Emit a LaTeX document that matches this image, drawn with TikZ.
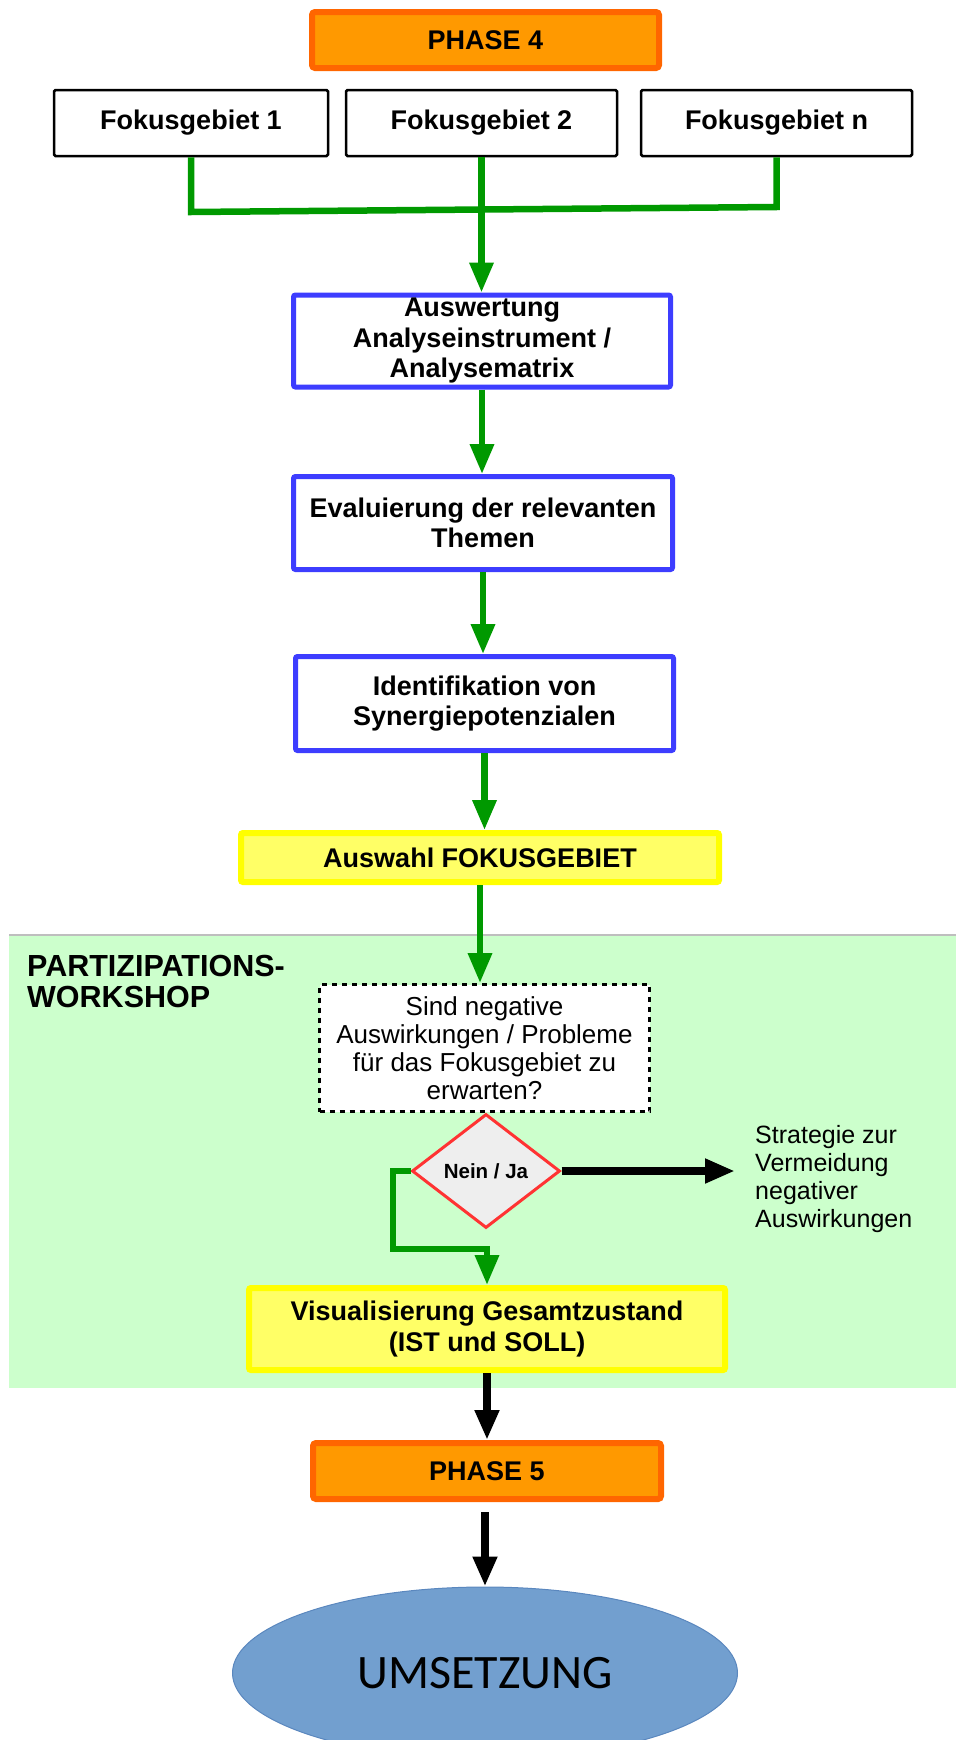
\documentclass[tikz,border=0pt]{standalone}
\usepackage{fontspec}
\setmainfont{Liberation Sans}
\newfontfamily\calibfont{Carlito}
\usetikzlibrary{arrows.meta,shapes.geometric}
\definecolor{orangeB}{RGB}{255,102,0}
\definecolor{orangeF}{RGB}{255,153,0}
\definecolor{blueB}{RGB}{61,61,255}
\definecolor{yellowB}{RGB}{255,255,0}
\definecolor{yellowF}{RGB}{255,255,102}
\definecolor{arrowgreen}{RGB}{0,153,0}
\definecolor{regionfill}{RGB}{204,255,204}
\definecolor{regionline}{RGB}{190,190,190}
\definecolor{diaB}{RGB}{255,51,51}
\definecolor{diaF}{RGB}{238,238,238}
\definecolor{ellF}{RGB}{114,159,207}
\definecolor{ellB}{RGB}{90,135,190}
\begin{document}
\begin{tikzpicture}[x=1pt,y=-1pt,
  phase/.style={draw=orangeB, fill=orangeF, line width=6pt, rounded corners=3pt,
    inner sep=0pt, font=\bfseries\fontsize{27}{30}\selectfont},
  fokus/.style={draw=black, fill=white, line width=2.5pt, rounded corners=1.5pt,
    inner sep=0pt, font=\bfseries\fontsize{27}{30}\selectfont},
  bluebox/.style={draw=blueB, fill=white, line width=5pt, rounded corners=2pt,
    inner sep=0pt, align=center, font=\bfseries\fontsize{27}{30.5}\selectfont},
  yellowbox/.style={draw=yellowB, fill=yellowF, line width=6pt, rounded corners=2pt,
    inner sep=0pt, align=center, font=\bfseries\fontsize{27}{30.5}\selectfont},
  questbox/.style={draw=black, fill=white, line width=3pt, dash pattern=on 5pt off 5pt,
    inner sep=0pt, align=center, font=\fontsize{26}{28}\selectfont},
  decision/.style={diamond, draw=diaB, fill=diaF, line width=3pt, inner sep=0pt,
    font=\bfseries\fontsize{20.5}{22}\selectfont},
  endell/.style={ellipse, draw=ellB, fill=ellF, line width=1pt, inner sep=0pt,
    font=\calibfont\fontsize{48}{52}\selectfont},
  plaintext/.style={inner sep=0pt, align=left},
  gline/.style={draw=arrowgreen, line width=6.5pt},
  garrow/.style={gline, -{Triangle[length=30pt,width=23pt]}},
  barrow/.style={draw=black, line width=7.5pt, -{Triangle[length=30pt,width=23pt]}}
]
\useasboundingbox (0,0) rectangle (956,1740);
\clip (0,0) rectangle (956,1740);

% workshop region
\fill[regionfill] (9,935) rectangle (956,1388);
\draw[regionline, line width=1.5pt] (9,935) -- (956,935);

% nodes
\node[phase, minimum width=347pt, minimum height=56pt] (p4) at (485.5,40) {PHASE 4};
\node[fokus, minimum width=274pt, minimum height=66pt] (f1) at (191,123) {Fokusgebiet 1};
\node[fokus, minimum width=271pt, minimum height=66pt] (f2) at (481.5,123) {Fokusgebiet 2};
\node[fokus, minimum width=271pt, minimum height=66pt] (f3) at (776.5,123) {Fokusgebiet n};

\node[bluebox, minimum width=377pt, minimum height=92pt] (aus) at (482,341)
  {Auswertung\\Analyseinstrument /\\Analysematrix};
\node[bluebox, minimum width=379pt, minimum height=93pt] (eva) at (483,523)
  {Evaluierung der relevanten\\Themen};
\node[bluebox, minimum width=378pt, minimum height=94pt] (ide) at (484.5,703.5)
  {Identifikation von\\Synergiepotenzialen};
\node[yellowbox, minimum width=478pt, minimum height=49pt] (wahl) at (480,857.5)
  {Auswahl FOKUSGEBIET};

\node[plaintext, anchor=north west, font=\bfseries\fontsize{30.5}{31}\selectfont] (ws) at (27,955)
  {PARTIZIPATIONS-\\WORKSHOP};

\node[questbox, minimum width=330pt, minimum height=127pt] (q) at (484.5,1048)
  {Sind negative\\Auswirkungen / Probleme\\f\"ur das Fokusgebiet zu\\erwarten?};
\node[decision, minimum width=148pt, minimum height=114pt] (dia) at (486,1171) {Nein / Ja};
\node[plaintext, anchor=west, font=\fontsize{25}{28}\selectfont] (strat) at (755,1179)
  {Strategie zur\\Vermeidung\\negativer\\Auswirkungen};

\node[yellowbox, minimum width=476pt, minimum height=82pt] (vis) at (487,1329)
  {Visualisierung Gesamtzustand\\(IST und SOLL)};
\node[phase, minimum width=348pt, minimum height=56pt] (p5) at (487,1471) {PHASE 5};
\node[endell, minimum width=505pt, minimum height=172pt] (ums) at (485,1673) {UMSETZUNG};

% connectors
\coordinate (j1) at (191,212);
\coordinate (j3) at (776.5,207);
\draw[gline] (f1.south) -- (j1) -- (j3) -- (f3.south);
\draw[garrow] (f2.south) -- (f2.south |- aus.north);
\draw[garrow] (aus.south) -- (aus.south |- eva.north);
\draw[garrow] (eva.south) -- (eva.south |- ide.north);
\draw[garrow] (ide.south) -- (ide.south |- wahl.north);
\draw[garrow] (wahl.south) -- (wahl.south |- q.north);
\coordinate (bend) at (393,1249);
\draw[garrow] (dia.west) -| (bend) -| (vis.north);
\coordinate (stratend) at (735,1171);
\draw[barrow] (dia.east) -- (stratend);
\draw[barrow] (vis.south) -- (vis.south |- p5.north);
\draw[barrow] ([yshift=-10pt]ums.north |- p5.south) -- (ums.north);
\end{tikzpicture}
\end{document}
